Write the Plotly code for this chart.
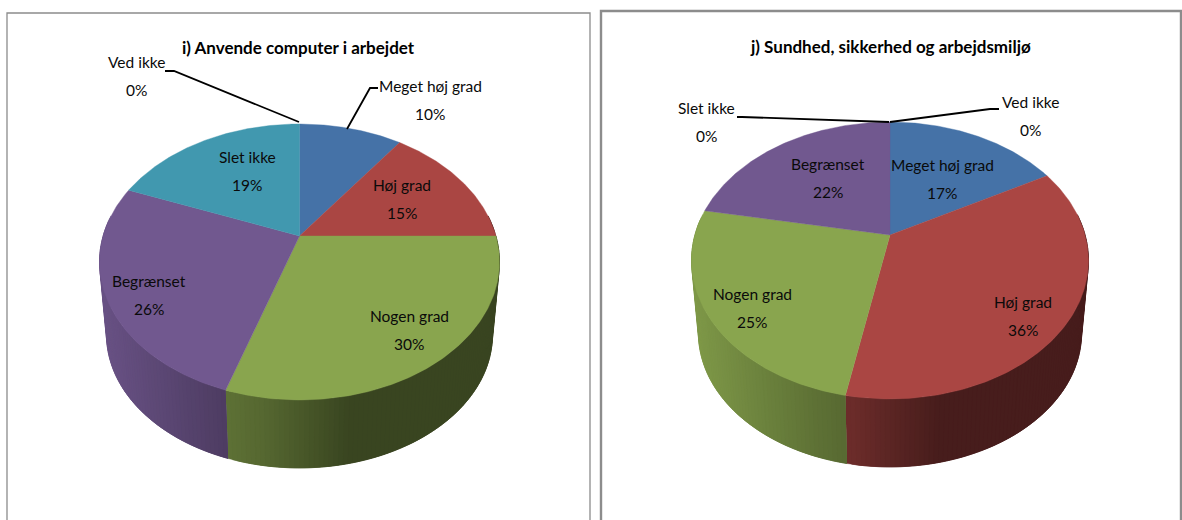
import numpy as np
import plotly.graph_objects as go

# Survey answers per question, in percent
categories_i = ["Meget høj grad", "Høj grad", "Nogen grad", "Begrænset", "Slet ikke", "Ved ikke"]
values_i = [10, 15, 30, 26, 19, 0]
title_i = "i) Anvende computer i arbejdet"

categories_j = ["Meget høj grad", "Høj grad", "Nogen grad", "Begrænset", "Slet ikke", "Ved ikke"]
values_j = [17, 36, 25, 22, 0, 0]
title_j = "j) Sundhed, sikkerhed og arbejdsmiljø"

colors = ["#4572A7", "#AA4643", "#89A54E", "#71588F", "#4198AF", "#9DB8D8"]

FONT = "Lato, Liberation Sans, sans-serif"
LABEL_SIZE = 15.5
TITLE_SIZE = 17
WALL_DROP = 72.8
WALL_SCALE = 0.965

# Shading of the rim relative to the horizontal distance from the pie centre
SHADE_X = [-210, -70, -37, 50, 210]
SHADE_F = [0.95, 0.68, 0.63, 0.42, 0.42]


def project(geom, theta):
    """Perspective projection of a rim angle, clockwise from 12 o'clock."""
    cx, apex_y, top_y, bottom_y, half_width = geom
    u, v = np.sin(theta), np.cos(theta)
    k = (bottom_y + top_y - 2 * apex_y) / (bottom_y - top_y)
    b = top_y * (1 + k) - apex_y
    den = 1 + k * v
    radius = half_width * np.sqrt(1 - k * k)
    return cx + radius * u / den, (apex_y + b * v) / den


def hex_rgb(h):
    return tuple(int(h[i:i + 2], 16) for i in (1, 3, 5))


def polygon(x, y, color):
    return go.Scatter(x=x, y=y, mode="lines", fill="toself", fillcolor=color,
                      line=dict(color=color, width=0.4), hoverinfo="skip", showlegend=False)


def draw_pie(fig, values, geom):
    cx, apex_y, top_y, bottom_y, _ = geom
    fractions = np.array(values, dtype=float) / sum(values)
    edges = np.concatenate([[0], np.cumsum(fractions)]) * 2 * np.pi
    mid_y = (top_y + bottom_y) / 2

    # Rim first. Each strip runs on under the next one so no background shows at the joins.
    for start, end, color in zip(edges[:-1], edges[1:], colors):
        lo, hi = max(start, np.pi * 0.45), min(end, np.pi * 1.55)
        if hi <= lo:
            continue
        step = np.radians(1.2)
        steps = max(int((hi - lo) / step), 1)
        grid = np.linspace(lo, hi, steps + 1)
        base = hex_rgb(color)
        # Sweep from the left of the screen towards the right on the front of the pie
        for a, b in zip(grid[-2::-1], grid[:0:-1]):
            seg = np.linspace(max(a - 2 * step, lo), b, 6)
            tx, ty = project(geom, seg)
            bx = cx + (tx - cx) * WALL_SCALE
            by = mid_y + WALL_DROP + (ty - mid_y) * WALL_SCALE
            mid_tx, _ = project(geom, np.array([(a + b) / 2]))
            f = np.interp(mid_tx[0] - cx, SHADE_X, SHADE_F)
            shade = "rgb(%d,%d,%d)" % tuple(int(c * f) for c in base)
            fig.add_trace(polygon(np.r_[tx, bx[::-1]], np.r_[ty, by[::-1]], shade))

    # Top face
    for start, end, color in zip(edges[:-1], edges[1:], colors):
        if end - start <= 0:
            continue
        seg = np.linspace(start, end, 120)
        tx, ty = project(geom, seg)
        fig.add_trace(polygon(np.r_[cx, tx, cx], np.r_[apex_y, ty, apex_y], color))


def add_labels(fig, categories, values, positions):
    for name, value in zip(categories, values):
        if name not in positions:
            continue
        x, y = positions[name]
        for text, yy in ((name, y), (f"{value}%", y + 28)):
            fig.add_annotation(x=x, y=yy, text=text, showarrow=False,
                               font=dict(family=FONT, size=LABEL_SIZE, color="#0A0A0A"))


def add_leader(fig, xs, ys):
    fig.add_trace(go.Scatter(x=xs, y=ys, mode="lines", hoverinfo="skip", showlegend=False,
                             line=dict(color="#000000", width=1.8)))


fig = go.Figure()

draw_pie(fig, values_i, (299.5, 236, 124, 400, 200))
draw_pie(fig, values_j, (890, 235, 122, 399, 198.5))

add_leader(fig, [165, 174, 299], [71, 71, 122])
add_leader(fig, [378, 370, 347], [88, 88, 129])
add_leader(fig, [737, 742, 889], [117, 117, 122])
add_leader(fig, [999, 990, 890], [109, 109, 122])

positions_i = {"Ved ikke": (136, 62), "Meget høj grad": (430, 86), "Høj grad": (402, 185),
               "Nogen grad": (409, 316), "Begrænset": (149, 281), "Slet ikke": (247, 157)}
positions_j = {"Slet ikke": (706, 108), "Ved ikke": (1030, 102), "Begrænset": (828, 164),
               "Meget høj grad": (942, 165), "Høj grad": (1023, 302), "Nogen grad": (752, 294)}
add_labels(fig, categories_i, values_i, positions_i)
add_labels(fig, categories_j, values_j, positions_j)

for text, x, y in ((title_i, 298, 47), (title_j, 890, 46)):
    fig.add_annotation(x=x, y=y, text=f"<b>{text}</b>", showarrow=False,
                       font=dict(family=FONT, size=TITLE_SIZE, color="#000000"))

# Chart frames, open at the bottom where the charts are cut off
frames = (
    ([7, 7, 590, 590], [520, 13, 13, 520], 1.3),
    ([601, 601, 1181, 1181], [520, 11, 11, 520], 2.4),
)
for xs, ys, width in frames:
    path = "M" + " L".join(f"{a},{b}" for a, b in zip(xs, ys))
    fig.add_shape(type="path", path=path, line=dict(color="#8C8C8C", width=width), layer="below")

fig.update_layout(
    width=1182, height=520, margin=dict(l=0, r=0, t=0, b=0),
    paper_bgcolor="white", plot_bgcolor="white", showlegend=False,
    xaxis=dict(range=[0, 1182], visible=False, fixedrange=True),
    yaxis=dict(range=[520, 0], visible=False, fixedrange=True),
)

fig.write_html("out.html", config={"displayModeBar": False})
